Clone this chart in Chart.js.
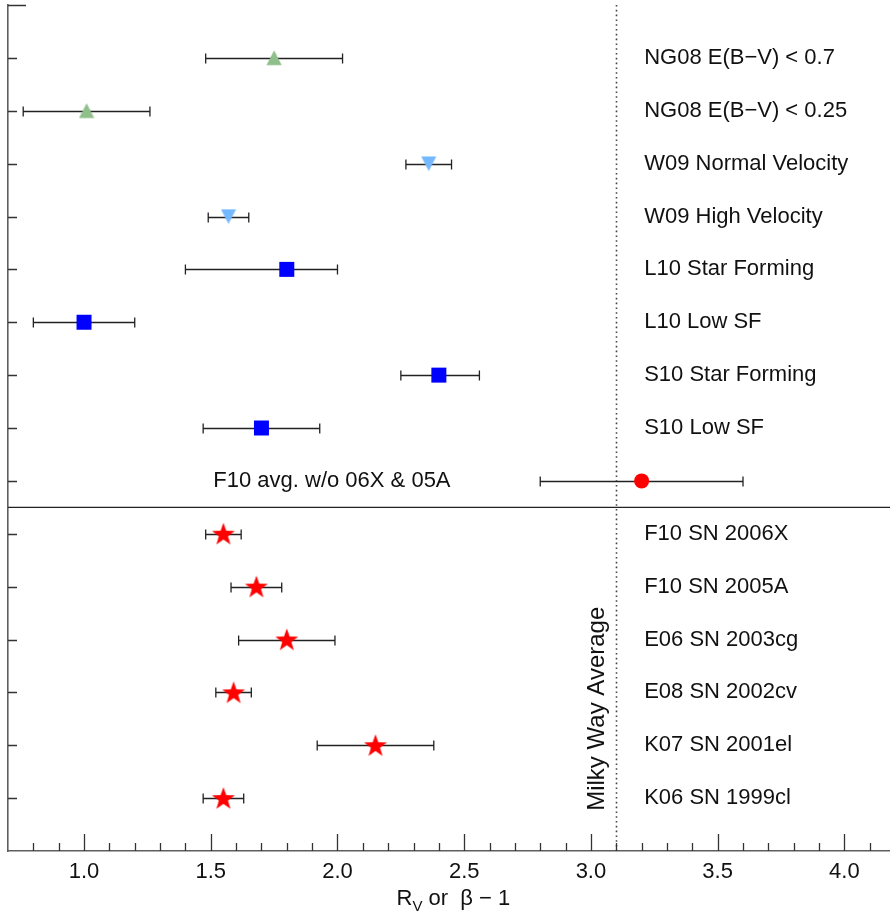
<!DOCTYPE html>
<html><head><meta charset="utf-8">
<script src="https://cdn.jsdelivr.net/npm/chart.js@4.4.0/dist/chart.umd.min.js"></script>
<style>html,body{margin:0;padding:0;background:#fff;overflow:hidden}#wrap{width:890px;height:916px;position:relative}</style>
</head><body><div id="wrap"><canvas id="c" width="890" height="916"></canvas></div>
<script>
// ---- data ----
const rowLabels = [
  "NG08 E(B\u2212V) < 0.7",
  "NG08 E(B\u2212V) < 0.25",
  "W09 Normal Velocity",
  "W09 High Velocity",
  "L10 Star Forming",
  "L10 Low SF",
  "S10 Star Forming",
  "S10 Low SF",
  "F10 avg. w/o 06X & 05A",
  "F10 SN 2006X",
  "F10 SN 2005A",
  "E06 SN 2003cg",
  "E08 SN 2002cv",
  "K07 SN 2001el",
  "K06 SN 1999cl"
];
const rowValues = [1.75, 1.01, 2.36, 1.57, 1.80, 1.00, 2.40, 1.70, 3.20, 1.55, 1.68, 1.80, 1.59, 2.15, 1.55];
const errLow    = [0.27, 0.25, 0.09, 0.08, 0.40, 0.20, 0.15, 0.23, 0.40, 0.07, 0.10, 0.19, 0.07, 0.23, 0.08];
const errHigh   = [0.27, 0.25, 0.09, 0.08, 0.20, 0.20, 0.16, 0.23, 0.40, 0.07, 0.10, 0.19, 0.07, 0.23, 0.08];
const ng08Rows = [1, 2];
const w09Rows = [3, 4];
const lsRows = [5, 6, 7, 8];
const f10AvgRows = [9];
const snRows = [10, 11, 12, 13, 14, 15];
const majorTicks = [1.0, 1.5, 2.0, 2.5, 3.0, 3.5, 4.0];
const minorTicks = [0.8, 0.9, 1.1, 1.2, 1.3, 1.4, 1.6, 1.7, 1.8, 1.9, 2.1, 2.2, 2.3, 2.4, 2.6, 2.7, 2.8, 2.9, 3.1, 3.2, 3.3, 3.4, 3.6, 3.7, 3.8, 3.9, 4.1];
const milkyWay = 3.1;
const separatorRow = 9.5;

// ---- marker images ----
function mk(w, h, fn) { const c = document.createElement('canvas'); c.width = w; c.height = h; fn(c.getContext('2d')); return c; }
const triUp = mk(16, 16, g => { g.fillStyle = '#8fbf8a'; g.beginPath(); g.moveTo(8, 0.5); g.lineTo(15.6, 15.3); g.lineTo(0.4, 15.3); g.closePath(); g.fill(); });
const triDown = mk(16, 16, g => { g.fillStyle = '#74b9ff'; g.beginPath(); g.moveTo(0.4, 0.8); g.lineTo(15.6, 0.8); g.lineTo(8, 15.5); g.closePath(); g.fill(); });
const star = mk(26, 26, g => {
  g.fillStyle = '#ff0000'; g.beginPath();
  const cx = 13, cy = 14, R = 12, r = R * 0.40;
  for (let i = 0; i < 10; i++) {
    const a = -Math.PI / 2 + i * Math.PI / 5; const rr = i % 2 ? r : R;
    const px = cx + rr * Math.cos(a), py = cy + rr * Math.sin(a);
    i ? g.lineTo(px, py) : g.moveTo(px, py);
  }
  g.closePath(); g.fill();
});

const pts = rows => rows.map(r => ({ x: rowValues[r - 1], y: r }));
const FONT = "'Liberation Sans', Arial, Helvetica, sans-serif";

const errorBars = {
  id: 'errorBars',
  beforeDatasetsDraw(chart) {
    const { ctx, scales: { x, y }, chartArea: a } = chart;
    ctx.save();
    // separator
    ctx.strokeStyle = '#222'; ctx.lineWidth = 1.3;
    const ys = y.getPixelForValue(separatorRow);
    ctx.beginPath(); ctx.moveTo(a.left, ys); ctx.lineTo(a.right, ys); ctx.stroke();
    // milky way dotted
    ctx.strokeStyle = '#444'; ctx.lineWidth = 1.6; ctx.setLineDash([1.6, 3.2]);
    const xm = Math.round(x.getPixelForValue(milkyWay)) + 0.5;
    ctx.beginPath(); ctx.moveTo(xm, a.top); ctx.lineTo(xm, a.bottom); ctx.stroke();
    ctx.setLineDash([]);
    // error bars
    ctx.strokeStyle = '#222'; ctx.lineWidth = 1.3;
    rowValues.forEach((v, i) => {
      const py = Math.round(y.getPixelForValue(i + 1)) + 0.5;
      const x1 = x.getPixelForValue(v - errLow[i]), x2 = x.getPixelForValue(v + errHigh[i]);
      ctx.beginPath();
      ctx.moveTo(x1, py); ctx.lineTo(x2, py);
      ctx.moveTo(x1, py - 5); ctx.lineTo(x1, py + 5);
      ctx.moveTo(x2, py - 5); ctx.lineTo(x2, py + 5);
      ctx.stroke();
    });
    ctx.restore();
  },
  afterDraw(chart) {
    const { ctx, scales: { x, y }, chartArea: a } = chart;
    ctx.save();
    // inside ticks
    ctx.strokeStyle = '#333'; ctx.lineWidth = 1.3;
    ctx.beginPath();
    majorTicks.forEach(t => { const px = Math.round(x.getPixelForValue(t)) + 0.5; ctx.moveTo(px, a.bottom); ctx.lineTo(px, a.bottom - 17); });
    minorTicks.forEach(t => { const px = Math.round(x.getPixelForValue(t)) + 0.5; ctx.moveTo(px, a.bottom); ctx.lineTo(px, a.bottom - 8); });
    rowLabels.forEach((l, i) => { const py = Math.round(y.getPixelForValue(i + 1)) + 0.5; ctx.moveTo(a.left, py); ctx.lineTo(a.left + 9, py); });
    const pt = Math.round(y.getPixelForValue(0)) + 0.5;
    ctx.moveTo(a.left, pt); ctx.lineTo(a.left + 18, pt);
    ctx.stroke();
    // row labels
    ctx.fillStyle = '#111'; ctx.font = '22px ' + FONT; ctx.textBaseline = 'middle'; ctx.textAlign = 'left';
    rowLabels.forEach((l, i) => {
      const py = y.getPixelForValue(i + 1);
      const px = (i + 1 === 9) ? x.getPixelForValue(1.51) : x.getPixelForValue(3.21);
      ctx.fillText(l, px, py);
    });
    // milky way label
    ctx.save();
    ctx.translate(x.getPixelForValue(milkyWay) - 19, y.getPixelForValue(13.31));
    ctx.rotate(-Math.PI / 2); ctx.textAlign = 'center'; ctx.font = '24px ' + FONT;
    ctx.fillText('Milky Way Average', 0, 0);
    ctx.restore();
    // axis title R_V or beta - 1
    ctx.textBaseline = 'alphabetic'; ctx.textAlign = 'left';
    let tx = 396.5; const by = 905;
    ctx.font = '22px ' + FONT; ctx.fillText('R', tx, by); tx += ctx.measureText('R').width;
    ctx.font = '15px ' + FONT; ctx.fillText('V', tx, by + 6); tx += ctx.measureText('V').width;
    ctx.font = '22px ' + FONT; ctx.fillText(' or  \u03B2 \u2212 1', tx, by);
    ctx.restore();
  }
};

new Chart(document.getElementById('c'), {
  type: 'scatter',
  data: {
    datasets: [
      { data: pts(ng08Rows), pointStyle: triUp },
      { data: pts(w09Rows), pointStyle: triDown },
      { data: pts(lsRows), pointStyle: 'rect', pointRadius: 10.6, backgroundColor: '#0000ff', borderWidth: 0 },
      { data: pts(f10AvgRows), pointStyle: 'circle', pointRadius: 7.5, backgroundColor: '#ff0000', borderWidth: 0 },
      { data: pts(snRows), pointStyle: star }
    ]
  },
  options: {
    responsive: false, animation: false, devicePixelRatio: 1,
    layout: { autoPadding: false, padding: { left: 8, top: 5, right: 0, bottom: 22.6 } },
    plugins: { legend: { display: false }, tooltip: { enabled: false } },
    scales: {
      x: {
        type: 'linear', min: 0.7, max: 4.18,
        grid: { display: false, drawTicks: false },
        border: { display: true, color: '#5e5e5e', width: 1.6 },
        ticks: { font: { family: FONT, size: 22 }, color: '#111', padding: 8, autoSkip: false, maxRotation: 0,
          callback: v => Number(v).toFixed(1) },
        afterBuildTicks: s => { s.ticks = majorTicks.map(v => ({ value: v })); }
      },
      y: {
        type: 'linear', min: 0, max: 16, reverse: true,
        grid: { display: false, drawTicks: false },
        border: { display: true, color: '#5e5e5e', width: 1.6 },
        ticks: { display: false }
      }
    }
  },
  plugins: [errorBars]
});
</script>
</body></html>
